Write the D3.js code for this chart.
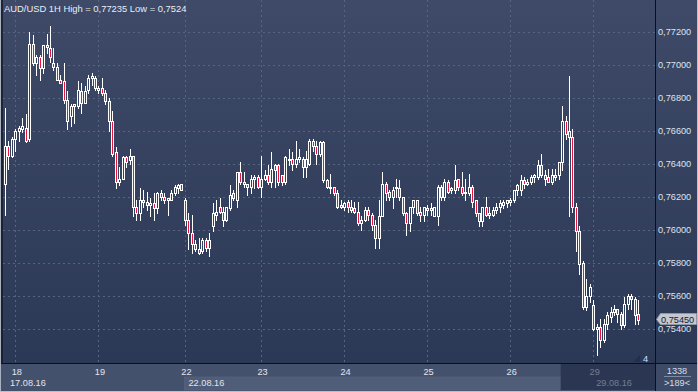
<!DOCTYPE html>
<html><head><meta charset="utf-8">
<script src="https://cdn.jsdelivr.net/npm/d3@7/dist/d3.min.js"></script>
<style>
html,body{margin:0;padding:0;background:#2c3957;}
svg{display:block;font-family:"Liberation Sans",Arial,sans-serif;}
</style></head>
<body><svg width="698" height="392"></svg>
<script>
const title='AUD/USD 1H High = 0,77235 Low = 0,7524';

// hourly candles, 17.08.16 21:00 .. 29.08.16
const open=[.7628,.7651,.7645,.7655,.7660,.7661,.7662,.7655,.7713,.7701,.7705,.7698,.7712,.7710,.7701,.7699,.7691,.7690,.7679,.7669,
.7676,.7675,.7684,.7677,.7685,.7692,.7692,.7686,.7686,.7683,.7678,.7666,.7647,.7629,.7631,.7644,.7642,.7645,.7614,.7610,
.7618,.7617,.7615,.7616,.7613,.7622,.7620,.7618,.7618,.7622,.7625,.7628,.7618,.7606,.7598,.7591,.7588,.7587,.7594,.7589,
.7602,.7609,.7614,.7611,.7606,.7613,.7622,.7618,.7635,.7629,.7628,.7626,.7631,.7632,.7626,.7631,.7633,.7629,.7639,.7639,
.7633,.7629,.7643,.7643,.7640,.7643,.7643,.7638,.7640,.7654,.7651,.7646,.7653,.7630,.7626,.7626,.7622,.7615,.7614,.7617,
.7614,.7613,.7611,.7604,.7606,.7612,.7609,.7603,.7595,.7608,.7628,.7623,.7620,.7625,.7625,.7620,.7610,.7604,.7614,.7618,
.7611,.7609,.7613,.7613,.7608,.7608,.7626,.7620,.7629,.7624,.7624,.7631,.7626,.7623,.7622,.7626,.7618,.7610,.7605,.7614,
.7610,.7609,.7612,.7614,.7615,.7616,.7617,.7618,.7624,.7624,.7630,.7628,.7629,.7632,.7632,.7639,.7633,.7632,.7629,.7633,
.7633,.7641,.7666,.7660,.7656,.7614,.7599,.7580,.7553,.7560,.7554,.7540,.7541,.7533,.7543,.7547,.7550,.7552,.7549,.7542,
.7555,.7560,.7558,.7549];
const high=[.7674,.7654,.7656,.7661,.7663,.7668,.7670,.7720,.7718,.7706,.7706,.7712,.7719,.77235,.7710,.7701,.7694,.7701,.7684,.7676,
.7676,.7690,.7689,.7687,.7694,.7695,.7693,.7687,.7692,.7685,.7680,.7672,.7650,.7638,.7645,.7645,.7649,.7645,.7618,.7625,
.7624,.7623,.7619,.7622,.7623,.7624,.7622,.7619,.7624,.7627,.7628,.7628,.7619,.7610,.7609,.7594,.7595,.7595,.7595,.7598,
.7616,.7618,.7619,.7614,.7614,.7627,.7624,.7635,.7641,.7635,.7628,.7633,.7633,.7633,.7645,.7636,.7639,.7647,.7640,.7640,
.7633,.7645,.7649,.7647,.7654,.7649,.7644,.7648,.7655,.7655,.7654,.7654,.7654,.7631,.7634,.7626,.7624,.7618,.7617,.7618,
.7618,.7617,.7617,.7608,.7614,.7614,.7610,.7606,.7618,.7635,.7629,.7624,.7626,.7631,.7630,.7620,.7611,.7614,.7618,.7618,
.7614,.7614,.7615,.7616,.7614,.7627,.7627,.7631,.7630,.7626,.7639,.7631,.7635,.7631,.7634,.7627,.7618,.7610,.7614,.7620,
.7614,.7614,.7616,.7618,.7618,.7618,.7619,.7624,.7628,.7633,.7632,.7631,.7633,.7634,.7642,.7646,.7636,.7637,.7637,.7637,
.7641,.7675,.7669,.7693,.7661,.7616,.7602,.7581,.7570,.7567,.7557,.7543,.7546,.7546,.7550,.7553,.7554,.7552,.7550,.7559,
.7561,.7561,.7559,.7557];
const low=[.7609,.7637,.7644,.7648,.7654,.7659,.7653,.7654,.7700,.7694,.7691,.7695,.7707,.7702,.7697,.7691,.7689,.7677,.7661,.7663,
.7665,.7674,.7671,.7677,.7683,.7688,.7685,.7683,.7682,.7676,.7660,.7645,.7625,.7627,.7631,.7638,.7640,.7608,.7606,.7606,
.7614,.7612,.7608,.7606,.7610,.7618,.7616,.7609,.7618,.7621,.7622,.7624,.7603,.7588,.7586,.7587,.7585,.7586,.7587,.7584,
.7599,.7606,.7610,.7602,.7605,.7612,.7618,.7614,.7628,.7626,.7621,.7622,.7625,.7625,.7620,.7630,.7628,.7626,.7626,.7627,
.7627,.7628,.7639,.7636,.7638,.7641,.7632,.7632,.7639,.7648,.7640,.7645,.7629,.7625,.7622,.7621,.7613,.7613,.7612,.7611,
.7611,.7610,.7603,.7600,.7605,.7606,.7600,.7589,.7589,.7608,.7618,.7618,.7613,.7620,.7618,.7609,.7597,.7599,.7610,.7609,
.7605,.7605,.7609,.7609,.7608,.7603,.7618,.7618,.7622,.7622,.7622,.7624,.7621,.7618,.7621,.7614,.7608,.7602,.7602,.7608,
.7607,.7608,.7610,.7611,.7613,.7614,.7615,.7617,.7621,.7621,.7625,.7627,.7628,.7629,.7631,.7632,.7627,.7629,.7628,.7630,
.7631,.7636,.7655,.7608,.7611,.7587,.7573,.7552,.7551,.7556,.7539,.7524,.7529,.7532,.7540,.7544,.7548,.7544,.7540,.7541,
.7552,.7552,.7543,.7543];
const close=[.7651,.7645,.7655,.7660,.7662,.7663,.7654,.7713,.7701,.7705,.7698,.7712,.7711,.7705,.7699,.7691,.7689,.7679,.7666,.7675,
.7675,.7685,.7677,.7684,.7692,.7693,.7686,.7685,.7683,.7678,.7666,.7646,.7629,.7631,.7644,.7641,.7645,.7614,.7610,.7618,
.7617,.7615,.7616,.7613,.7622,.7620,.7618,.7619,.7622,.7626,.7627,.7624,.7606,.7598,.7591,.7588,.7586,.7594,.7589,.7594,
.7610,.7611,.7611,.7606,.7614,.7621,.7619,.7635,.7629,.7628,.7626,.7631,.7632,.7626,.7631,.7633,.7629,.7637,.7636,.7629,
.7629,.7644,.7642,.7640,.7643,.7644,.7638,.7643,.7654,.7651,.7646,.7653,.7630,.7626,.7625,.7622,.7614,.7614,.7616,.7614,
.7612,.7611,.7604,.7606,.7612,.7609,.7603,.7595,.7608,.7628,.7622,.7620,.7624,.7626,.7620,.7610,.7604,.7614,.7618,.7610,
.7609,.7614,.7612,.7612,.7614,.7626,.7620,.7629,.7623,.7625,.7630,.7626,.7622,.7622,.7626,.7617,.7610,.7605,.7614,.7609,
.7609,.7612,.7614,.7616,.7617,.7618,.7618,.7624,.7627,.7630,.7628,.7629,.7632,.7633,.7639,.7633,.7631,.7629,.7633,.7632,
.7641,.7666,.7658,.7656,.7614,.7599,.7579,.7553,.7560,.7565,.7540,.7541,.7533,.7543,.7548,.7550,.7552,.7549,.7542,.7555,
.7560,.7558,.7548,.7545];

const dayIdx=[3,27,52,74,98,122,146,170];
const dayLabels=['18','19','22','23','24','25','26','29'];
const priceTicks=[0.754,0.756,0.758,0.760,0.762,0.764,0.766,0.768,0.770,0.772];
const lastPrice=0.7545;

const svg=d3.select('svg');
const width=+svg.attr('width'), height=+svg.attr('height');
const plotRight=655, plotBottom=363;

const x=d3.scaleLinear().domain([0,open.length-1]).range([5,5+(open.length-1)*3.46]);
const y=d3.scaleLinear().domain([0.754,0.772]).range([328.5,32]);
const fmt=v=>d3.format('.5f')(v).replace('.',',');
const px=v=>Math.round(v)+0.5;

// background
const defs=svg.append('defs');
const grad=defs.append('linearGradient').attr('id','bg').attr('x1',0).attr('y1',0).attr('x2',0).attr('y2',1);
grad.append('stop').attr('offset','0%').attr('stop-color','#3e4a67');
grad.append('stop').attr('offset','100%').attr('stop-color','#2b3856');
svg.append('rect').attr('width',width).attr('height',plotBottom).attr('fill','url(#bg)');

// bottom time band
svg.append('rect').attr('y',plotBottom).attr('width',plotRight).attr('height',height-plotBottom).attr('fill','#44516c');
svg.append('rect').attr('x',px(x(dayIdx[2]))-1).attr('y',377).attr('width',x(160.6)-x(dayIdx[2])).attr('height',13)
   .attr('fill','#4f5d78').attr('stroke','#5b6984').attr('stroke-width',0.5);
svg.append('rect').attr('x',x(160.6)).attr('y',plotBottom).attr('width',plotRight-x(160.6)).attr('height',height-plotBottom-2)
   .attr('fill','#2b3752');
svg.append('rect').attr('x',plotRight).attr('y',plotBottom).attr('width',width-plotRight).attr('height',height-plotBottom).attr('fill','#3e4b66');

// grid
const grid=svg.append('g').attr('stroke','#56647f').attr('stroke-dasharray','2,3');
grid.selectAll('line.h').data(priceTicks).join('line').attr('class','h')
   .attr('x1',3).attr('x2',plotRight).attr('y1',d=>px(y(d))).attr('y2',d=>px(y(d)));
grid.selectAll('line.v').data(dayIdx).join('line').attr('class','v')
   .attr('x1',d=>px(x(d))).attr('x2',d=>px(x(d))).attr('y1',0).attr('y2',plotBottom);

// candles
const candles=d3.range(open.length).map(i=>({i,o:open[i],h:high[i],l:low[i],c:close[i]}));
const cg=svg.selectAll('g.candle').data(candles).join('g').attr('class','candle');
cg.append('line')
  .attr('x1',d=>px(x(d.i))).attr('x2',d=>px(x(d.i)))
  .attr('y1',d=>Math.round(y(d.h))).attr('y2',d=>Math.round(y(d.l))+1)
  .attr('stroke','#ffffff').attr('stroke-width',1);
cg.append('rect')
  .attr('x',d=>px(x(d.i))-1)
  .attr('y',d=>Math.round(y(Math.max(d.o,d.c)))+0.5)
  .attr('width',2)
  .attr('height',d=>Math.max(1,Math.round(y(Math.min(d.o,d.c)))-Math.round(y(Math.max(d.o,d.c)))))
  .attr('fill',d=>d.c>=d.o?'#34415e':'#e3163d')
  .attr('stroke','#ffffff').attr('stroke-width',1);

// frame lines
svg.append('line').attr('x1',plotRight+0.5).attr('x2',plotRight+0.5).attr('y1',0).attr('y2',height).attr('stroke','#0b0f18');
svg.append('line').attr('x1',0).attr('x2',width).attr('y1',plotBottom+0.5).attr('y2',plotBottom+0.5).attr('stroke','#0b0f18');
svg.append('line').attr('x1',0.5).attr('x2',0.5).attr('y1',0).attr('y2',height).attr('stroke','#a9b1c0');
svg.append('line').attr('x1',2).attr('x2',2).attr('y1',0).attr('y2',plotBottom).attr('stroke','#141a28').attr('stroke-width',1.5);
svg.append('line').attr('x1',0).attr('x2',width).attr('y1',height-0.5).attr('y2',height-0.5).attr('stroke','#b9c0cc');
svg.append('line').attr('x1',width-0.5).attr('x2',width-0.5).attr('y1',0).attr('y2',height).attr('stroke','#b9c0cc');

// price axis
svg.append('g').selectAll('text').data(priceTicks).join('text')
   .attr('x',658).attr('y',d=>y(d)+3.3).attr('font-size',9.2).attr('fill','#dde4f0').text(fmt);

// last price marker
const ly=Math.round(y(lastPrice))-1;
svg.append('path').attr('d',`M656.5,${ly+0.5}L660.5,${ly-5.5}H696.5V${ly+5.5}H660.5Z`)
   .attr('fill','#c3c8d1').attr('stroke','#8e97a8');
svg.append('text').attr('x',661).attr('y',ly+3.5).attr('font-size',9.2).attr('fill','#18202f').text(fmt(lastPrice));

// time axis labels
svg.append('g').selectAll('text').data(dayIdx).join('text')
   .attr('x',d=>x(d)+1.5).attr('y',375).attr('text-anchor','middle').attr('font-size',9.2)
   .attr('fill',(d,i)=>i===dayIdx.length-1?'#707d96':'#e0e6f0').text((d,i)=>dayLabels[i]);
svg.append('text').attr('x',10).attr('y',386).attr('font-size',9.2).attr('fill','#e0e6f0').text('17.08.16');
svg.append('text').attr('x',px(x(dayIdx[2]))+3).attr('y',386).attr('font-size',9.2).attr('fill','#e0e6f0').text('22.08.16');
svg.append('text').attr('x',x(dayIdx[7])+3).attr('y',386).attr('font-size',9.2).attr('fill','#707d96').text('29.08.16');

// corner info
svg.append('text').attr('x',677).attr('y',374).attr('text-anchor','middle').attr('font-size',9.2).attr('fill','#d6deea').text('1338');
svg.append('line').attr('x1',664).attr('x2',691).attr('y1',376.5).attr('y2',376.5).attr('stroke','#7d8aa2');
svg.append('text').attr('x',677).attr('y',386).attr('text-anchor','middle').attr('font-size',9.2).attr('fill','#d6deea').text('>189<');
svg.append('path').attr('d','M633,362L640,355V362Z').attr('fill','#243048');
svg.append('text').attr('x',643).attr('y',361.5).attr('font-size',9.2).attr('fill','#cfe0ff').text('4');

// title
svg.append('text').attr('x',4).attr('y',11.5).attr('font-size',9.4).attr('fill','#e9edf5').text(title);
</script>
</body></html>
